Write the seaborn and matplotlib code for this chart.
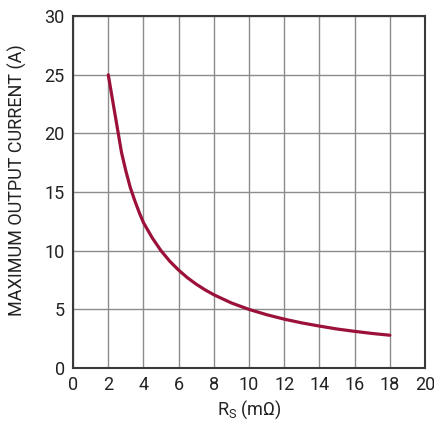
import matplotlib
matplotlib.use("Agg")
import matplotlib.pyplot as plt
import seaborn as sns
import pandas as pd

# valores
rs = [2, 2.25, 2.5, 2.75, 3, 3.25, 3.5, 3.75, 4, 4.5, 5, 5.5, 6, 6.5, 7, 7.5, 8, 9, 10,
      11, 12, 13, 14, 15, 16, 17, 18]
corriente = [25, 22.8, 20.6, 18.4, 16.8, 15.4, 14.3, 13.3, 12.4, 11.1, 10.0, 9.1, 8.35,
             7.7, 7.15, 6.67, 6.25, 5.55, 5.0, 4.55, 4.17, 3.85, 3.58, 3.33, 3.13, 2.95, 2.8]
x_ticks = list(range(0, 21, 2))
y_ticks = list(range(0, 31, 5))

df = pd.DataFrame({"rs": rs, "corriente": corriente})

sns.set_style("white")
plt.rcParams["font.family"] = ["Roboto", "DejaVu Sans"]

fig, ax = plt.subplots(figsize=(4.35, 4.26), dpi=100)
fig.subplots_adjust(left=0.168, right=0.977, bottom=0.136, top=0.962)

sns.lineplot(data=df, x="rs", y="corriente", ax=ax, color="#9b1139", linewidth=2.3)

ax.set_xlim(0, 20)
ax.set_ylim(0, 30)
ax.set_xticks(x_ticks)
ax.set_yticks(y_ticks)
ax.grid(True, color="#8c8c8c", linewidth=1.0)
for s in ax.spines.values():
    s.set_color("#3a3a3a")
    s.set_linewidth(1.5)
ax.tick_params(length=0, labelsize=13, pad=6, colors="#222222")
ax.set_xlabel("R$_\\mathregular{S}$ (m\u03a9)", fontsize=13, color="#222222", labelpad=3)
ax.set_ylabel("MAXIMUM OUTPUT CURRENT (A)", fontsize=13, color="#222222")
ax.yaxis.set_label_coords(-0.132, 0.535)

plt.savefig("out.png", dpi=100)
plt.close()
